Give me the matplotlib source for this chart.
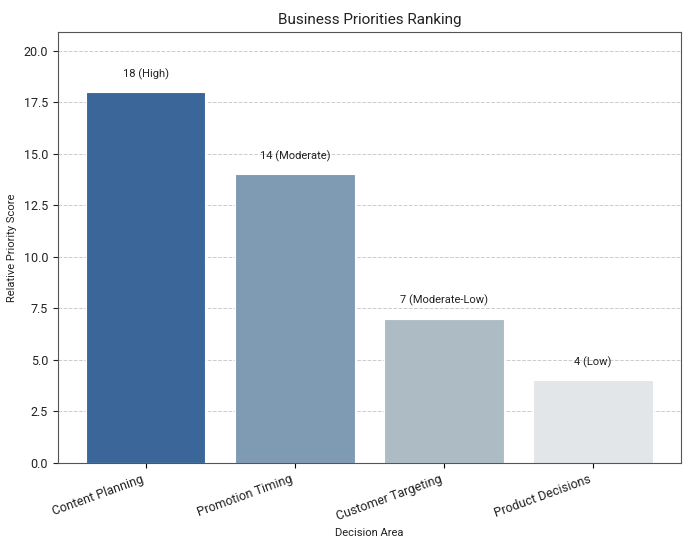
import numpy as np
import matplotlib.pyplot as plt

plt.rcParams['font.family'] = ['Roboto', 'DejaVu Sans']

# Data
areas = ["Content Planning", "Promotion Timing", "Customer Targeting", "Product Decisions"]
scores = [18, 14, 7, 4]
levels = ["High", "Moderate", "Moderate-Low", "Low"]
colors = ["#3a6699", "#7f9ab3", "#adbcc4", "#e2e6e9"]

fig, ax = plt.subplots(figsize=(6.88, 5.4), dpi=100)
x = np.arange(len(areas))
bars = ax.bar(x, scores, width=0.8, color=colors, edgecolor="white", linewidth=0.8, zorder=2)

for b, s, lv in zip(bars, scores, levels):
    ax.text(b.get_x() + b.get_width() / 2, s + 0.6, "{} ({})".format(s, lv),
            ha="center", va="bottom", fontsize=8, color="#222222")

ax.set_title("Business Priorities Ranking", fontsize=11, color="#222222")
ax.set_xlabel("Decision Area", fontsize=8, color="#222222")
ax.set_ylabel("Relative Priority Score", fontsize=8, color="#222222")
ax.yaxis.set_label_coords(-0.066, 0.5)
ax.set_xticks(x)
ax.set_xticklabels(areas, rotation=20, ha="right", fontsize=9, color="#222222")
ax.tick_params(axis="y", labelsize=9, colors="#222222")
ax.set_ylim(0, 20.9)
ax.yaxis.grid(True, linestyle="--", color="#cccccc", linewidth=0.7, zorder=0)
ax.set_axisbelow(True)
for sp in ax.spines.values():
    sp.set_color("#555555")

plt.subplots_adjust(left=0.084, right=0.99, top=0.94, bottom=0.143)
plt.savefig("out.png", dpi=100)
